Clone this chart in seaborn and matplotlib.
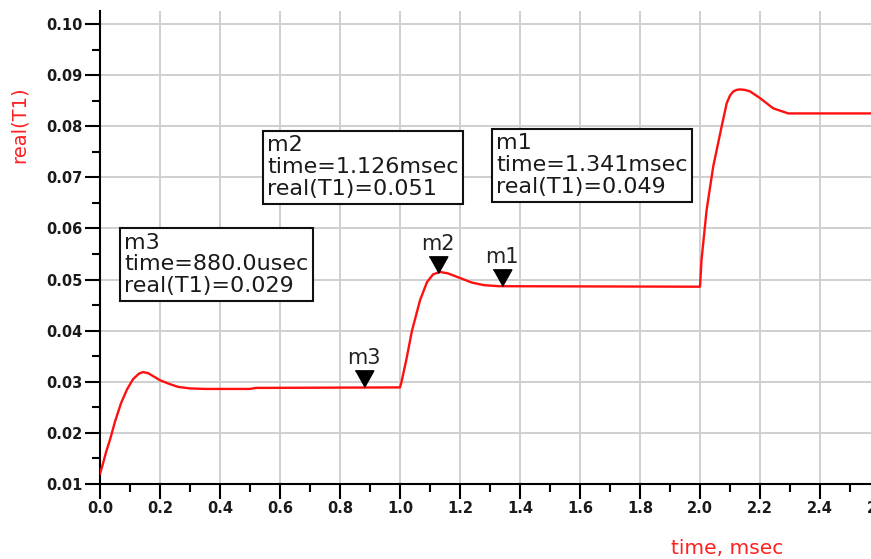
import matplotlib
matplotlib.use("Agg")
import matplotlib.pyplot as plt
import numpy as np
import pandas as pd
import seaborn as sns
from matplotlib.ticker import MultipleLocator, FormatStrFormatter

# ---------------- data ----------------
time_ms = [0.000, 0.010, 0.020, 0.033, 0.050, 0.070, 0.090, 0.110, 0.130, 0.143,
           0.160, 0.180, 0.200, 0.230, 0.260, 0.300, 0.350, 0.500, 0.520, 1.000,
           1.005, 1.020, 1.040, 1.067, 1.090, 1.110, 1.133, 1.160, 1.200, 1.240,
           1.280, 1.330, 2.000,
           2.005, 2.022, 2.044, 2.072, 2.089, 2.100, 2.111, 2.122, 2.133, 2.150,
           2.167, 2.200, 2.244, 2.294, 2.570]
real_t1 = [0.0120, 0.0140, 0.0162, 0.0186, 0.0222, 0.0258, 0.0285, 0.0305, 0.0316, 0.0319,
           0.0317, 0.0310, 0.0303, 0.0296, 0.0290, 0.0287, 0.0286, 0.0286, 0.0288, 0.0289,
           0.0300, 0.0340, 0.0400, 0.0460, 0.0495, 0.0510, 0.0515, 0.0512, 0.0503, 0.0494,
           0.0489, 0.0487, 0.0486,
           0.0538, 0.0636, 0.0721, 0.0799, 0.0845, 0.0860, 0.0868, 0.0871, 0.0872, 0.0871,
           0.0868, 0.0855, 0.0835, 0.0825, 0.0825]

marker_names = ["m1", "m2", "m3"]
marker_time = [1.341, 1.126, 0.880]      # msec
marker_value = [0.0487, 0.0512, 0.0289]

x_ticks = [0.0, 0.2, 0.4, 0.6, 0.8, 1.0, 1.2, 1.4, 1.6, 1.8, 2.0, 2.2, 2.4]
y_ticks = [0.01, 0.02, 0.03, 0.04, 0.05, 0.06, 0.07, 0.08, 0.09, 0.10]
clipped_tick = 2.6
x_label = "time, msec"
y_label = "real(T1)"

# readout box anchors (top-left of text, data coords)
box_anchor = {"m1": (1.321, 0.0786), "m2": (0.558, 0.0782), "m3": (0.081, 0.0592)}

# ---------------- figure ----------------
sns.set_theme(style="white")
plt.rcParams["font.family"] = ["DejaVu Sans"]

fig = plt.figure(figsize=(8.71, 5.59), dpi=100)
ax = fig.add_axes([100 / 871, 75 / 559, 1 - 100 / 871, (484 - 11) / 559])

df = pd.DataFrame({"time": time_ms, "real": real_t1})
sns.lineplot(data=df, x="time", y="real", ax=ax, color="#ff1010", lw=1.7,
             sort=False, estimator=None, zorder=3)

ax.set_xlim(0, 2.57)
ax.set_ylim(0.01, 0.10254)
ax.set_xticks(x_ticks)
ax.set_yticks(y_ticks)
ax.xaxis.set_minor_locator(MultipleLocator(0.1))
ax.yaxis.set_minor_locator(MultipleLocator(0.005))
ax.xaxis.set_major_formatter(FormatStrFormatter("%.1f"))
ax.yaxis.set_major_formatter(FormatStrFormatter("%.2f"))

ax.grid(True, which="major", color="#cfcfcf", lw=1.4, zorder=0)
ax.set_axisbelow(True)

for s in ["top", "right"]:
    ax.spines[s].set_visible(False)
for s in ["left", "bottom"]:
    ax.spines[s].set_color("black")
    ax.spines[s].set_linewidth(1.5)

ax.tick_params(axis="both", which="major", direction="out", length=10.5, width=1.5,
               color="black", pad=2, labelsize=10.5, labelcolor="#1a1a1a",
               bottom=True, left=True)
ax.tick_params(axis="both", which="minor", direction="out", length=5.5, width=1.5,
               color="black", bottom=True, left=True)
for lbl in ax.get_xticklabels() + ax.get_yticklabels():
    lbl.set_fontweight("bold")

# partially visible "2.6" tick label at the right edge (cut off as in the reference)
ax.annotate(f"{clipped_tick:.1f}", xy=(clipped_tick, 0), xycoords=("data", "axes fraction"),
            xytext=(0, -12.5), textcoords="offset points", ha="center", va="top",
            fontsize=10.5, fontweight="bold", color="#1a1a1a", annotation_clip=False)

ax.set_xlabel("")
ax.set_ylabel("")
fig.text(727 / 871, 1 - 548 / 559, x_label, color="#ff2020", fontsize=14.5,
         ha="center", va="center")
fig.text(19 / 871, 1 - 125 / 559, y_label, color="#ff2020", fontsize=14,
         ha="center", va="center", rotation=90)

# markers: downward triangles with tip on the curve
tri = [(-0.56, 1.0), (0.56, 1.0), (0.0, 0.0)]
ax.plot(marker_time, marker_value, linestyle="none", marker=tri, markersize=24,
        color="black", zorder=5, clip_on=False)

def fmt_time(t):
    if t < 1:
        return f"{t * 1000:.1f}usec"
    return f"{t:.3f}msec"

for name, t, v in zip(marker_names, marker_time, marker_value):
    ax.annotate(name, xy=(t, v), xytext=(0, 16.5), textcoords="offset points",
                ha="center", va="baseline", fontsize=15, color="#222222", zorder=6)
    bx, by = box_anchor[name]
    ax.text(bx, by, f"{name}\ntime={fmt_time(t)}\nreal(T1)={v:.3f}",
            ha="left", va="top", fontsize=16, color="#1a1a1a", linespacing=1.12,
            zorder=7,
            bbox=dict(boxstyle="square,pad=0.2", facecolor="white",
                      edgecolor="#111111", linewidth=1.5))

fig.savefig("out.png", dpi=100, facecolor="white")
